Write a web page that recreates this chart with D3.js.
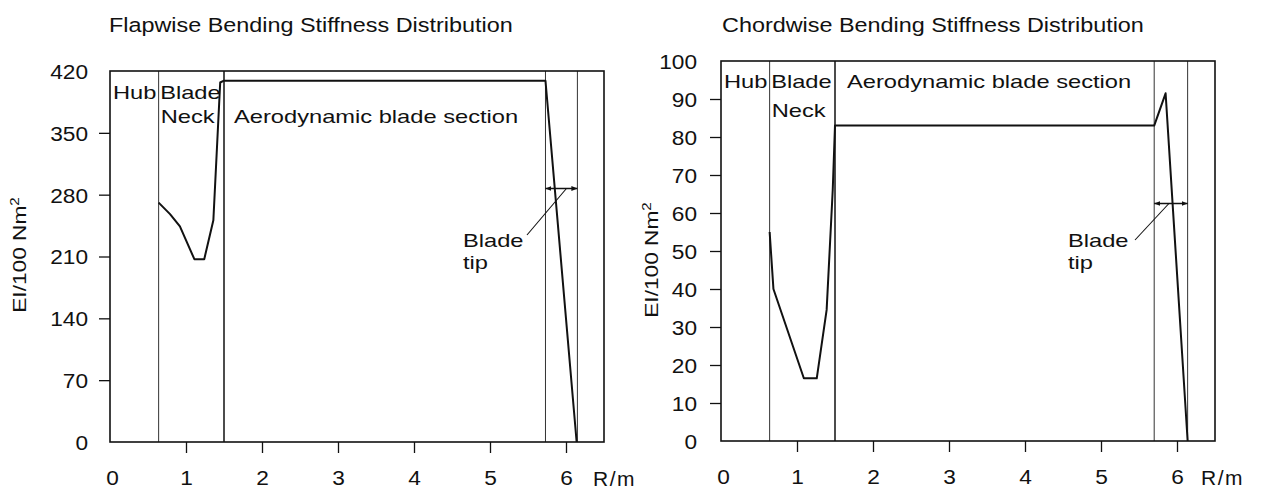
<!DOCTYPE html>
<html>
<head>
<meta charset="utf-8">
<script src="https://cdn.jsdelivr.net/npm/d3@7"></script>
<style>
  body { margin: 0; background: #fff; }
  svg { display: block; }
  text { font-family: "Liberation Sans", Arial, Helvetica, sans-serif; fill: #111; }
</style>
</head>
<body>
<svg id="chart" width="1266" height="489"></svg>
<script>
// ---- data -------------------------------------------------------------
const radiusTicks = [0, 1, 2, 3, 4, 5, 6];
const flapTicks = [0, 70, 140, 210, 280, 350, 420];
const chordTicks = [0, 10, 20, 30, 40, 50, 60, 70, 80, 90, 100];

// flapwise stiffness EI/100 Nm^2 along the radius R/m
const flapR  = [0.64, 0.79, 0.92, 1.11, 1.24, 1.36, 1.45, 1.50, 5.73, 6.14];
const flapEI = [271,  258,  244,  207,  207,  251,  407,  409,  409,  0];

// chordwise stiffness EI/100 Nm^2 along the radius R/m
const chordR  = [0.64, 0.69, 1.09, 1.26, 1.39, 1.47, 1.50, 5.70, 5.85, 6.14];
const chordEI = [55,   40,   16.5, 16.5, 34.5, 66,   83,   83,   91.5, 0];

// section boundaries: hub | blade neck | aerodynamic section | tip
const flapSections  = [0.64, 1.50, 5.73, 6.15];
const chordSections = [0.64, 1.50, 5.70, 6.14];

// level of the blade-tip dimension line
const flapTipLevel = 287;
const chordTipLevel = 62.5;

const sectionNames = ["Hub", "Blade", "Neck", "Aerodynamic blade section"];
const tipNames = ["Blade", "tip"];

// ---- layout -----------------------------------------------------------
const panels = [
  {
    title: "Flapwise Bending Stiffness Distribution",
    r: flapR, ei: flapEI, sections: flapSections, tipLevel: flapTipLevel,
    yTicks: flapTicks, yMax: 420,
    left: 110, right: 604, top: 71, bottom: 442,
    titleX: 109, yLabelX: 26, yLabelY: 255,
    hubY: 28, neckY: 52, aeroY: 52, aeroDx: 10,
    tipLabelX: 463, tipLabelY: 247, leaderFrom: [527, 235], leaderToDx: 10,
    yPad: 11, rmX: 593
  },
  {
    title: "Chordwise Bending Stiffness Distribution",
    r: chordR, ei: chordEI, sections: chordSections, tipLevel: chordTipLevel,
    yTicks: chordTicks, yMax: 100,
    left: 721, right: 1215, top: 61, bottom: 441,
    titleX: 722, yLabelX: 658, yLabelY: 260,
    hubY: 27, neckY: 55.5, aeroY: 27, aeroDx: 12,
    tipLabelX: 1068, tipLabelY: 247, leaderFrom: [1135, 240], leaderToDx: 3,
    yPad: 13, rmX: 1201
  }
];

const svg = d3.select("#chart");

// arrowhead for the blade-tip dimension line
svg.append("defs").append("marker")
  .attr("id", "arrow")
  .attr("viewBox", "0 0 10 10")
  .attr("refX", 10).attr("refY", 5)
  .attr("markerWidth", 6).attr("markerHeight", 6)
  .attr("markerUnits", "userSpaceOnUse")
  .attr("orient", "auto-start-reverse")
  .append("path").attr("d", "M0,1L10,5L0,9Z").attr("fill", "#111");

// text drawn with a horizontal stretch around its anchor point
function stretched(g, x, y, str, size, sx, anchor) {
  return g.append("text")
    .attr("transform", `translate(${x},${y}) scale(${sx},1)`)
    .attr("text-anchor", anchor || "start")
    .style("font-size", size + "px")
    .text(str);
}

panels.forEach(p => {
  const g = svg.append("g");
  const x = d3.scaleLinear().domain([0, 6.5]).range([p.left, p.right]);
  const y = d3.scaleLinear().domain([0, p.yMax]).range([p.bottom, p.top]);

  // title
  stretched(g, p.titleX, 32, p.title, 19.5, 1.2);

  // y label EI/100 Nm²
  const yl = g.append("text")
    .attr("transform", `translate(${p.yLabelX},${p.yLabelY}) rotate(-90) scale(1.26,1)`)
    .attr("text-anchor", "middle")
    .style("font-size", "18px");
  yl.append("tspan").text("EI/100 Nm");
  yl.append("tspan").attr("dy", "-0.55em").style("font-size", "12px").text("2");

  // axes
  const yAxis = d3.axisLeft(y).tickValues(p.yTicks).tickSize(11).tickSizeOuter(0).tickFormat(d3.format("d"));
  const ya = g.append("g").attr("transform", `translate(${p.left},0)`).call(yAxis);
  ya.select(".domain").remove();
  ya.selectAll(".tick line").attr("stroke", "#111").attr("stroke-width", 1.3)
    .filter(d => d === 0 || d === p.yMax).remove();
  ya.selectAll(".tick text")
    .attr("x", null).attr("dy", "0.35em")
    .attr("transform", `translate(${-(11 + p.yPad)},0) scale(1.08,1)`)
    .style("font-size", "21px").attr("fill", "#111");

  const xAxis = d3.axisBottom(x).tickValues(radiusTicks).tickSize(11).tickSizeOuter(0).tickFormat(d3.format("d"));
  const xa = g.append("g").attr("transform", `translate(0,${p.bottom})`).call(xAxis);
  xa.select(".domain").remove();
  xa.selectAll(".tick line").attr("stroke", "#111").attr("stroke-width", 1.3)
    .filter(d => d === 0).remove();
  xa.selectAll(".tick text")
    .attr("y", null).attr("dy", "0.71em")
    .attr("transform", (d) => `translate(${d === 0 ? 2 : 0},28) scale(1.08,1)`)
    .style("font-size", "21px").attr("fill", "#111");

  // axis unit
  g.append("text")
    .attr("x", p.rmX).attr("y", p.bottom + 44)
    .style("font-size", "21px").style("letter-spacing", "1.5px")
    .text("R/m");

  // section boundaries
  g.selectAll("line.section").data(p.sections).join("line")
    .attr("class", "section")
    .attr("x1", d => x(d)).attr("x2", d => x(d))
    .attr("y1", p.top).attr("y2", p.bottom)
    .attr("stroke", (d, i) => i === 1 ? "#111" : "#333")
    .attr("stroke-width", (d, i) => i === 1 ? 1.5 : 1);

  // frame
  g.append("rect")
    .attr("x", p.left).attr("y", p.top)
    .attr("width", p.right - p.left).attr("height", p.bottom - p.top)
    .attr("fill", "none").attr("stroke", "#111").attr("stroke-width", 1.6);

  // stiffness curve
  const pts = p.r.map((r, i) => [r, p.ei[i]]);
  g.append("path").datum(pts)
    .attr("fill", "none").attr("stroke", "#111").attr("stroke-width", 2)
    .attr("stroke-linejoin", "round")
    .attr("d", d3.line().x(d => x(d[0])).y(d => y(d[1])));

  // section labels
  stretched(g, x(0) + 3, p.top + p.hubY, sectionNames[0], 18.5, 1.28);
  stretched(g, x(p.sections[0]) + 1.5, p.top + p.hubY, sectionNames[1], 18.5, 1.28);
  stretched(g, x(p.sections[0]) + 2, p.top + p.neckY, sectionNames[2], 18.5, 1.28);
  stretched(g, x(p.sections[1]) + p.aeroDx, p.top + p.aeroY, sectionNames[3], 18.5, 1.28);

  // blade-tip dimension line
  const yt = y(p.tipLevel);
  g.append("line")
    .attr("x1", x(p.sections[2])).attr("x2", x(p.sections[3]))
    .attr("y1", yt).attr("y2", yt)
    .attr("stroke", "#111").attr("stroke-width", 1.4)
    .attr("marker-start", "url(#arrow)").attr("marker-end", "url(#arrow)");

  // tip label with leader
  const mid = (x(p.sections[2]) + x(p.sections[3])) / 2;
  g.append("line")
    .attr("x1", p.leaderFrom[0]).attr("y1", p.leaderFrom[1])
    .attr("x2", mid + p.leaderToDx - 5).attr("y2", yt)
    .attr("stroke", "#111").attr("stroke-width", 1.1);
  stretched(g, p.tipLabelX, p.tipLabelY, tipNames[0], 18.5, 1.28);
  stretched(g, p.tipLabelX, p.tipLabelY + 22, tipNames[1], 18.5, 1.28);
});
</script>
</body>
</html>
